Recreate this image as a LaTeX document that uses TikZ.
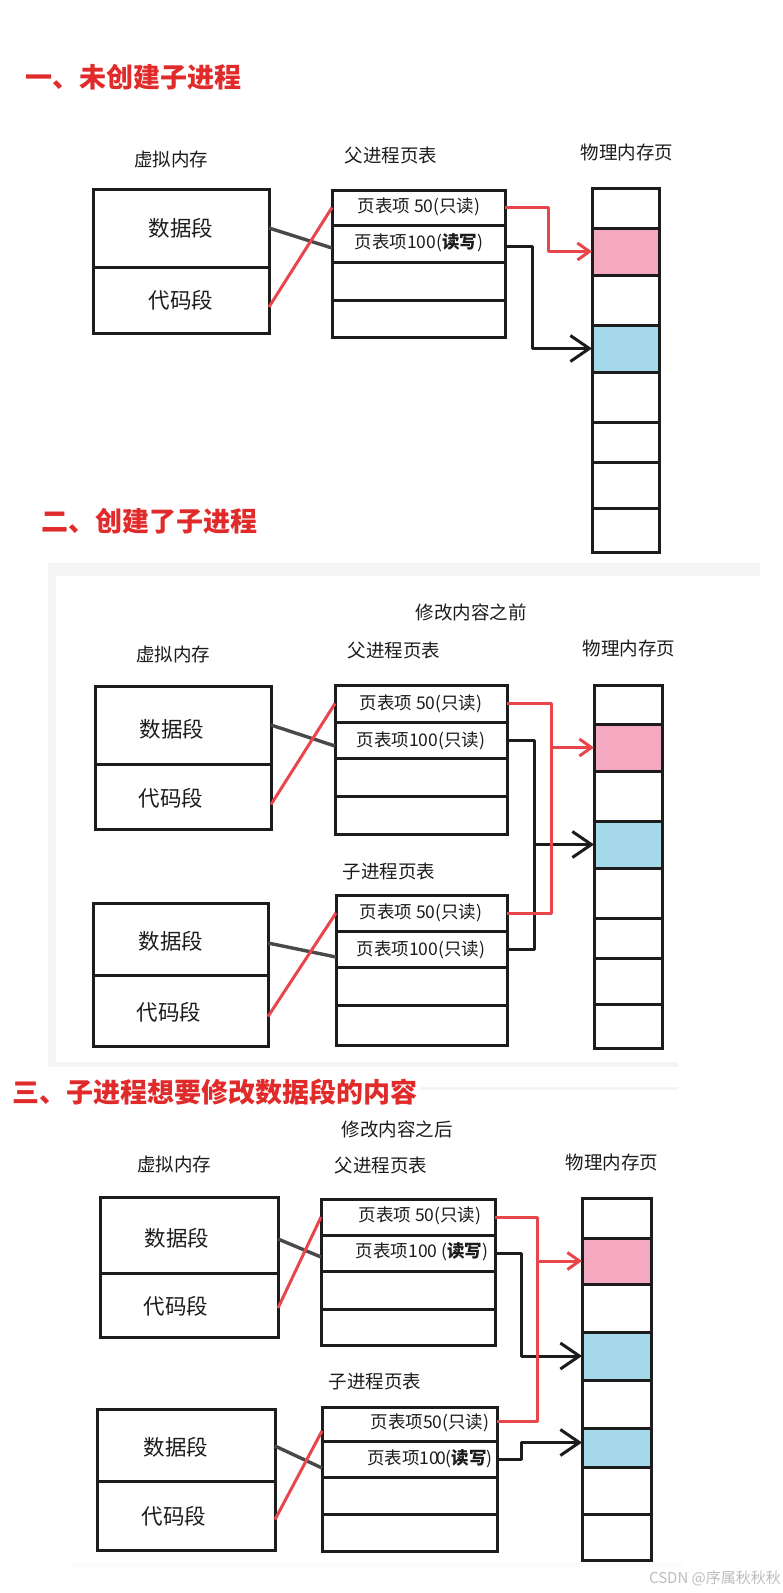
\documentclass[tikz,border=0pt]{standalone}
\usepackage{fontspec}
\setmainfont{Noto Sans CJK SC}
\usetikzlibrary{arrows.meta}
\definecolor{ink}{HTML}{1C1C1C}
\definecolor{ttlred}{HTML}{E12B2B}
\definecolor{lnred}{HTML}{E8464B}
\definecolor{cpink}{HTML}{F5A9C0}
\definecolor{cblue}{HTML}{A5D8E8}
\definecolor{band}{HTML}{F5F5F5}
\definecolor{wm}{HTML}{BDBDBD}
\newcommand\mybox[6][]{%
  \pgfmathsetmacro\bw{#4-#2}\pgfmathsetmacro\bh{#5-#3}%
  \pgfmathsetmacro\bcx{(#2+#4)/2}\pgfmathsetmacro\bcy{(#3+#5)/2}%
  \node[cellbox,#1,minimum width=\bw pt,minimum height=\bh pt] (#6) at (\bcx,\bcy) {};}
\newcommand\mytxt[4][]{\node[#1] (#2) at (#3) {#4};}
\begin{document}
\begin{tikzpicture}[x=1pt,y=-1pt,
  cellbox/.style={draw=ink,line width=3pt,inner sep=0pt,outer sep=0pt,rectangle},
  ttl/.style={font=\fontsize{27}{28}\selectfont\bfseries,text=ttlred,anchor=west,inner sep=0pt},
  hdr/.style={font=\fontsize{18.5}{20}\selectfont,text=ink,inner sep=0pt},
  seg/.style={font=\fontsize{21.5}{23}\selectfont,text=ink,inner sep=0pt},
  ent/.style={font=\fontsize{17.5}{18}\selectfont,text=ink,inner sep=0pt},
  vmline/.style={draw=ink!80,line width=3.4pt},
  redline/.style={draw=lnred,line width=3pt,line join=round},
  redarrow/.style={redline,-{Straight Barb[length=12pt,width=17pt]}},
  blkline/.style={draw=ink,line width=3pt,line join=round},
  blkarrow/.style={blkline,-{Straight Barb[length=19pt,width=26pt]}}]
\useasboundingbox (0,0) rectangle (783,1593);
\fill[white] (0,0) rectangle (783,1593);
% panel bands of section 2
\fill[band] (48,563) rectangle (760,576);
\fill[band] (48,563) rectangle (56,1067);
\fill[band] (48,1062) rectangle (678,1067);
\fill[band] (420,1087) rectangle (678,1090);
\fill[band!90!black!8] (73,1563) rectangle (685,1567);

% ================= Section 1 =================
\node[ttl] (t1) at (25,77) {一、未创建子进程};
\node[hdr] (s1h1) at (171,159) {虚拟内存};
\node[hdr] (s1h2) at (391,155) {父进程页表};
\node[hdr] (s1h3) at (627,152) {物理内存页};
\mybox{93}{189}{269}{267}{s1d}
\mybox{93}{267}{269}{333}{s1c}
\mytxt[seg]{s1dt}{s1d.center}{数据段}
\mytxt[seg]{s1ct}{s1c.center}{代码段}
\mybox{332}{190}{505}{225}{s1p1}
\mybox{332}{225}{505}{262}{s1p2}
\mybox{332}{262}{505}{300}{s1p3}
\mybox{332}{300}{505}{337}{s1p4}
\mytxt[ent]{s1p1t}{419,207}{页表项 50(只读)}
\mytxt[ent]{s1p2t}{419,243}{页表项100(\textbf{读写})}
\mybox{592}{188}{659}{228}{s1m1}
\mybox[fill=cpink]{592}{228}{659}{275}{s1m2}
\mybox{592}{275}{659}{325}{s1m3}
\mybox[fill=cblue]{592}{325}{659}{372}{s1m4}
\mybox{592}{372}{659}{422}{s1m5}
\mybox{592}{422}{659}{462}{s1m6}
\mybox{592}{462}{659}{508}{s1m7}
\mybox{592}{508}{659}{552}{s1m8}
\draw[vmline] (s1d.east) -- ([yshift=-4.5pt]s1p2.west);
\draw[redline] ([yshift=-7pt]s1c.east) -- (s1p1.west);
\coordinate (s1rx) at (548,0);
\coordinate (s1bx) at (532,0);
\draw[redarrow] (s1p1.east) -| (s1rx |- s1m2.west) -- (s1m2.west);
\draw[blkarrow] ([yshift=-3pt]s1p2.east) -| (s1bx |- s1m4.west) -- (s1m4.west);

% ================= Section 2 =================
\node[ttl] (t2) at (41,521) {二、创建了子进程};
\node[hdr] (s2top) at (471,612) {修改内容之前};
\node[hdr] (s2h1) at (173,654) {虚拟内存};
\node[hdr] (s2h2) at (394,650) {父进程页表};
\node[hdr] (s2h3) at (629,648) {物理内存页};
\mybox{95}{686}{271}{764}{s2d1}
\mybox{95}{764}{271}{829}{s2c1}
\mytxt[seg]{s2d1t}{172,729}{数据段}
\mytxt[seg]{s2c1t}{171,798}{代码段}
\mybox{335}{685}{507}{722}{s2p1}
\mybox{335}{722}{507}{758}{s2p2}
\mybox{335}{758}{507}{796}{s2p3}
\mybox{335}{796}{507}{834}{s2p4}
\mytxt[ent]{s2p1t}{421,704}{页表项 50(只读)}
\mytxt[ent]{s2p2t}{421,741}{页表项100(只读)}
\mybox{594}{685}{662}{724}{s2m1}
\mybox[fill=cpink]{594}{724}{662}{771}{s2m2}
\mybox{594}{771}{662}{821}{s2m3}
\mybox[fill=cblue]{594}{821}{662}{868}{s2m4}
\mybox{594}{868}{662}{918}{s2m5}
\mybox{594}{918}{662}{958}{s2m6}
\mybox{594}{958}{662}{1004}{s2m7}
\mybox{594}{1004}{662}{1048}{s2m8}
\node[hdr] (s2h4) at (389,871) {子进程页表};
\mybox{93}{903}{268}{975}{s2d2}
\mybox{93}{975}{268}{1046}{s2c2}
\mytxt[seg]{s2d2t}{171,941}{数据段}
\mytxt[seg]{s2c2t}{169,1012}{代码段}
\mybox{336}{895}{507}{931}{s2q1}
\mybox{336}{931}{507}{967}{s2q2}
\mybox{336}{967}{507}{1005}{s2q3}
\mybox{336}{1005}{507}{1045}{s2q4}
\mytxt[ent]{s2q1t}{421,913}{页表项 50(只读)}
\mytxt[ent]{s2q2t}{421,950}{页表项100(只读)}
\draw[vmline] (s2d1.east) -- ([yshift=-6pt]s2p2.west);
\draw[redline] ([yshift=-8pt]s2c1.east) -- (s2p1.west);
\draw[vmline] ([yshift=-4pt]s2d2.east) -- ([yshift=-8pt]s2q2.west);
\draw[redline] ([yshift=-6pt]s2c2.east) -- (s2q1.west);
\coordinate (s2rx) at (551,0);
\coordinate (s2bx) at (534,0);
\draw[blkarrow] (s2p2.east) -| (s2bx |- s2m4.west) -- (s2m4.west);
\draw[blkline] (s2q2.east) -| (s2bx |- s2m4.west);
\draw[redarrow] (s2p1.east) -| (s2rx |- s2m2.west) -- (s2m2.west);
\draw[redline] (s2q1.east) -| (s2rx |- s2m2.west);

% ================= Section 3 =================
\node[ttl] (t3) at (12,1092) {三、子进程想要修改数据段的内容};
\node[hdr] (s3top) at (397,1129) {修改内容之后};
\node[hdr] (s3h1) at (174,1164) {虚拟内存};
\node[hdr] (s3h2) at (381,1165) {父进程页表};
\node[hdr] (s3h3) at (612,1162) {物理内存页};
\mybox{100}{1197}{278}{1273}{s3d1}
\mybox{100}{1273}{278}{1337}{s3c1}
\mytxt[seg]{s3d1t}{177,1238}{数据段}
\mytxt[seg]{s3c1t}{176,1306}{代码段}
\mybox{321}{1199}{495}{1235}{s3p1}
\mybox{321}{1235}{495}{1271}{s3p2}
\mybox{321}{1271}{495}{1309}{s3p3}
\mybox{321}{1309}{495}{1345}{s3p4}
\mytxt[ent]{s3p1t}{420,1216}{页表项 50(只读)}
\mytxt[ent]{s3p2t}{422,1252}{页表项100 (\textbf{读写})}
\mybox{582}{1198}{651}{1238}{s3m1}
\mybox[fill=cpink]{582}{1238}{651}{1284}{s3m2}
\mybox{582}{1284}{651}{1332}{s3m3}
\mybox[fill=cblue]{582}{1332}{651}{1380}{s3m4}
\mybox{582}{1380}{651}{1428}{s3m5}
\mybox[fill=cblue]{582}{1428}{651}{1467}{s3m6}
\mybox{582}{1467}{651}{1514}{s3m7}
\mybox{582}{1514}{651}{1560}{s3m8}
\node[hdr] (s3h4) at (375,1381) {子进程页表};
\mybox{97}{1409}{275}{1481}{s3d2}
\mybox{97}{1481}{275}{1550}{s3c2}
\mytxt[seg]{s3d2t}{176,1447}{数据段}
\mytxt[seg]{s3c2t}{174,1516}{代码段}
\mybox{322}{1407}{497}{1441}{s3q1}
\mybox{322}{1441}{497}{1477}{s3q2}
\mybox{322}{1477}{497}{1514}{s3q3}
\mybox{322}{1514}{497}{1551}{s3q4}
\mytxt[ent]{s3q1t}{430,1423}{页表项50(只读)}
\mytxt[ent]{s3q2t}{430,1459}{页表项10\kern-3pt0(\textbf{读写})}
\draw[vmline] ([yshift=-4pt]s3d1.east) -- ([yshift=-4pt]s3p2.west);
\draw[redline] ([yshift=-3pt]s3c1.east) -- (s3p1.west);
\draw[vmline] ([yshift=-1pt]s3d2.east) -- ([yshift=-9pt]s3q2.west);
\draw[redline] ([yshift=-4pt]s3c2.east) -- ([yshift=-7pt]s3q1.west);
\coordinate (s3rx) at (537,0);
\coordinate (s3bx) at (521,0);
\draw[blkarrow] (s3p2.east) -| (s3bx |- s3m4.west) -- (s3m4.west);
\draw[blkarrow] (s3q2.east) -| ([yshift=5pt]s3bx |- s3m6.west) -- ([yshift=5pt]s3m6.west);
\draw[redarrow] (s3p1.east) -| (s3rx |- s3m2.west) -- (s3m2.west);
\draw[redline] ([yshift=3pt]s3q1.east) -| (s3rx |- s3m2.west);

\node[font=\fontsize{15}{16}\selectfont,text=wm,inner sep=0pt] (wmk) at (715,1578) {CSDN @序属秋秋秋};
\end{tikzpicture}
\end{document}
